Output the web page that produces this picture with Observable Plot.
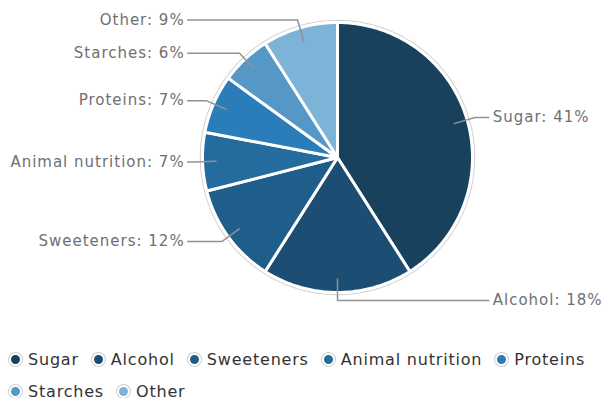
<!DOCTYPE html>
<html>
<head>
<meta charset="utf-8">
<script src="https://cdn.jsdelivr.net/npm/d3@7"></script>
<script src="https://cdn.jsdelivr.net/npm/@observablehq/plot@0.6"></script>
<style>
  body { margin: 0; background: #fff; font-family: "DejaVu Sans", sans-serif; }
  #chart svg { display: block; }
  #legend { display: flex; flex-wrap: wrap; width: 600px; padding-left: 9px; box-sizing: border-box; margin-top: 0; }
  .item { display: inline-flex; align-items: center; height: 32px; margin-right: 13px; font-size: 16px; letter-spacing: 0.8px; color: #333; white-space: nowrap; }
  .dot { width: 9px; height: 9px; border-radius: 50%; border: 2px solid #fff; box-shadow: 0 0 0 1px #cfcfcf; margin-right: 6px; }
</style>
</head>
<body>
<div id="chart"></div>
<div id="legend"></div>
<script>
const categories = ["Sugar", "Alcohol", "Sweeteners", "Animal nutrition", "Proteins", "Starches", "Other"];
const shares = [41, 18, 12, 7, 7, 6, 9];
const colors = ["#18415e", "#1c4e73", "#1f5d8a", "#236c9d", "#2b7dba", "#5597c6", "#7eb3d8"];

const arcs = d3.pie().sort(null).value(d => d)(shares);

// slice outlines (unit circle, angle clockwise from top)
const slicePts = [];
arcs.forEach((a, i) => {
  const cat = categories[i];
  slicePts.push({cat, x: 0, y: 0});
  const n = Math.max(2, Math.ceil((a.endAngle - a.startAngle) / (Math.PI / 180)));
  for (let k = 0; k <= n; k++) {
    const t = a.startAngle + (a.endAngle - a.startAngle) * k / n;
    slicePts.push({cat, x: Math.sin(t), y: Math.cos(t)});
  }
});

// faint outer rim
const rim = d3.range(0, 361).map(d => {
  const t = d * Math.PI / 180;
  return {x: 1.016 * Math.sin(t), y: 1.016 * Math.cos(t)};
});

// leader lines and labels
const leaders = [];
const labels = [];
arcs.forEach((a, i) => {
  const cat = categories[i];
  const mid = (a.startAngle + a.endAngle) / 2;
  const s = Math.sin(mid), c = Math.cos(mid);
  const side = s >= 0 ? 1 : -1;
  const endX = side > 0 ? 1.12 : -1.11;
  leaders.push({cat, x: 0.9 * s, y: 0.9 * c});
  leaders.push({cat, x: 1.06 * s, y: 1.06 * c});
  leaders.push({cat, x: endX, y: 1.06 * c});
  labels.push({cat, side, x: endX, y: 1.06 * c, text: `${cat}: ${shares[i]}%`});
});

const chart = Plot.plot({
  width: 610,
  height: 343,
  margin: 0,
  x: {type: "linear", domain: [-1, 1], range: [202, 472], axis: null},
  y: {type: "linear", domain: [-1, 1], range: [292, 22], axis: null},
  color: {domain: categories, range: colors},
  style: {fontFamily: "DejaVu Sans, sans-serif", fontSize: "15px", background: "#fff", letterSpacing: "1px"},
  marks: [
    Plot.line(rim, {x: "x", y: "y", stroke: "#d6d6d6", strokeWidth: 1.2}),
    Plot.line(slicePts, {x: "x", y: "y", z: "cat", fill: "cat", stroke: "#fff", strokeWidth: 3, strokeLinejoin: "round", curve: "linear-closed"}),
    Plot.line(leaders, {x: "x", y: "y", z: "cat", stroke: "#929292", strokeWidth: 1.5}),
    Plot.text(labels.filter(d => d.side > 0), {x: "x", y: "y", text: "text", textAnchor: "start", dx: 4, fill: "#707070", fontSize: 15}),
    Plot.text(labels.filter(d => d.side < 0), {x: "x", y: "y", text: "text", textAnchor: "end", dx: -3, fill: "#707070", fontSize: 15})
  ]
});
document.getElementById("chart").appendChild(chart);

const legend = document.getElementById("legend");
categories.forEach((cat, i) => {
  const item = document.createElement("span");
  item.className = "item";
  const dot = document.createElement("span");
  dot.className = "dot";
  dot.style.background = colors[i];
  item.appendChild(dot);
  item.appendChild(document.createTextNode(cat));
  legend.appendChild(item);
});
</script>
</body>
</html>
